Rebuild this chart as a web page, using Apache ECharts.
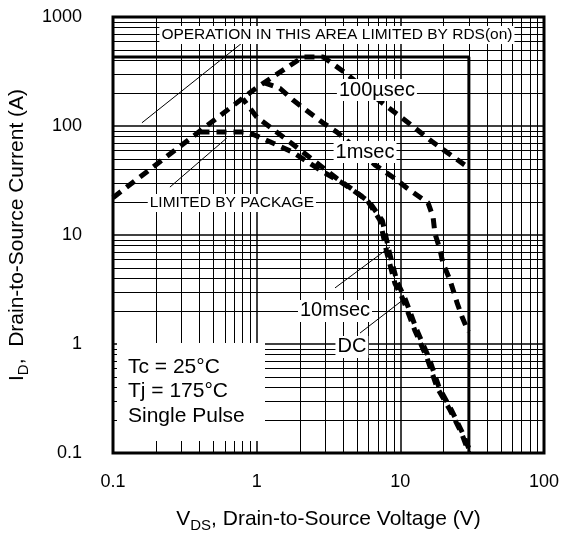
<!DOCTYPE html>
<html>
<head>
<meta charset="utf-8">
<script src="https://cdn.jsdelivr.net/npm/echarts@6/dist/echarts.min.js"></script>
<style>
html,body{margin:0;padding:0;background:#fff;}
#soa{width:564px;height:533px;}
</style>
</head>
<body>
<div id="soa"></div>
<script>
// safe operating area, log-log
const FONT='"Liberation Sans", Arial, Helvetica, sans-serif';

const decades=[0.1,1,10];
const steps=[2,3,4,5,6,7,8,9];
const yDecades=[0.1,1,10,100];

// [V, A]
const us100=[[0.1,22],[1,225],[2.1,430],[2.9,430],[4.1,310],[8,152],[11.7,104],[16.6,72],[28,44]];
const ms1=[[1.12,250],[1.45,222],[1.79,173],[2.89,107],[3.62,88],[6.65,44],[9.46,32],[11.1,27],[15.6,19.7],[16.9,14.6],[17.4,10.4],[18.9,7.3],[19.8,5.5],[22.1,3.9],[24.8,2.4],[26.8,1.8],[29,1.4],[30,1.3]];
const ms10=[[0.8,178],[1.0,121],[1.71,71],[3.62,33],[4.68,26],[6.1,20],[7.5,13.5],[8.4,6.9],[9.5,3.7],[10.8,2.6],[13,1.35],[15.8,0.75],[18.6,0.4],[22.6,0.25],[27.3,0.15],[30,0.11]];
const dc=[[0.4,88],[0.86,88],[1.05,79],[1.76,58],[2.89,38],[3.8,31],[5.86,21],[7.21,13.7],[8.07,6.8],[9.17,3.6],[10.4,2.6],[12.6,1.34],[15.3,0.75],[18,0.4],[22.1,0.25],[26.8,0.15],[30,0.1]];
const limitBox=[[0.1,430],[30,430],[30,0.1]];

const leaders=[
    [[0.159,107],[0.79,577]],
    [[0.249,27.5],[0.62,77.6]],
    [[3.51,3.27],[8.47,7.76]],
    [[5.24,1.26],[10.4,2.53]]
];

const tags=[
    {text:'OPERATION IN THIS AREA LIMITED BY RDS(on)',at:[3.62,684],size:15.5},
    {text:'LIMITED BY PACKAGE',at:[0.672,19.7],size:15.5},
    {text:'100µsec',at:[6.87,214],size:20},
    {text:'1msec',at:[5.68,57.7],size:20},
    {text:'10msec',at:[3.51,2.01],size:20},
    {text:'DC',at:[4.6,0.94],size:20}
];
const conditions=['Tc = 25°C','Tj = 175°C','Single Pulse'];

const xMinor=[];
decades.forEach(d=>steps.forEach(s=>xMinor.push(+(d*s).toPrecision(3))));
const yMinor=[];
yDecades.forEach(d=>steps.forEach(s=>yMinor.push(+(d*s).toPrecision(3))));

const chart=echarts.init(document.getElementById('soa'));

const curve=(name,data,offset)=>({
    name,
    type:'line',
    data,
    symbol:'none',
    z:3,
    lineStyle:{color:'#000',width:5,type:[10,7],dashOffset:offset||0,cap:'butt'}
});

const fmt=v=>String(Number(Number(v).toPrecision(2)));

chart.setOption({
    animation:false,
    backgroundColor:'#fff',
    grid:{
        left:113,right:20,top:17,bottom:80,
        containLabel:false,outerBoundsMode:'none',
        show:true,borderColor:'#000',borderWidth:3,backgroundColor:'transparent'
    },
    xAxis:{
        type:'log',logBase:10,min:0.1,max:100,
        axisLine:{show:false},axisTick:{show:false},
        splitLine:{show:true,lineStyle:{color:'#000',width:1.5}},
        axisLabel:{color:'#000',fontSize:18,fontFamily:FONT,margin:20,formatter:fmt},
        name:'{m|V}{s|DS}{m|, Drain-to-Source Voltage (V)}',
        nameLocation:'middle',nameGap:53,
        nameTextStyle:{color:'#000',fontSize:21,fontFamily:FONT,rich:{
            m:{fontSize:21,fontFamily:FONT,color:'#000'},
            s:{fontSize:15,fontFamily:FONT,color:'#000',padding:[12,0,0,0]}
        }}
    },
    yAxis:{
        type:'log',logBase:10,min:0.1,max:1000,
        axisLine:{show:false},axisTick:{show:false},
        splitLine:{show:true,lineStyle:{color:'#000',width:1.5}},
        axisLabel:{color:'#000',fontSize:18,fontFamily:FONT,margin:31,formatter:fmt},
        name:'{m|I}{s|D}{m|,  Drain-to-Source Current (A)}',
        nameLocation:'middle',nameGap:67,
        nameTextStyle:{color:'#000',fontSize:21,fontFamily:FONT,rich:{
            m:{fontSize:21,fontFamily:FONT,color:'#000'},
            s:{fontSize:15,fontFamily:FONT,color:'#000',padding:[12,0,0,0]}
        }}
    },
    series:[
        {
            name:'grid',
            type:'line',
            data:limitBox,
            symbol:'none',
            z:2,
            lineStyle:{color:'#000',width:3},
            markLine:{
                silent:true,
                symbol:['none','none'],
                label:{show:false},
                lineStyle:{color:'#000',width:1,type:'solid'},
                data:[
                    ...xMinor.map(v=>({xAxis:v})),
                    ...yMinor.map(v=>({yAxis:v}))
                ]
            }
        },
        curve('100µsec',us100),
        curve('1msec',ms1),
        curve('10msec',ms10,4),
        curve('DC',dc),
        ...leaders.map((pts,i)=>({
            name:'leader'+i,
            type:'line',
            data:pts,
            symbol:'none',
            z:4,
            lineStyle:{color:'#000',width:1}
        }))
    ]
});

const px=p=>chart.convertToPixel({gridIndex:0},p);

const graphics=tags.map(t=>{
    const [x,y]=px(t.at);
    return {
        type:'text',x,y,z:100,
        style:{
            text:t.text,fill:'#000',fontSize:t.size,fontFamily:FONT,
            align:'center',verticalAlign:'middle',
            backgroundColor:'#fff',padding:[1,2]
        }
    };
});

graphics.push({type:'rect',z:99,shape:{x:117,y:343,width:148,height:98},style:{fill:'#fff'}});
conditions.forEach((c,i)=>{
    graphics.push({
        type:'text',x:128,y:367+i*24.5,z:100,
        style:{text:c,fill:'#000',fontSize:21,fontFamily:FONT,align:'left',verticalAlign:'middle'}
    });
});

chart.setOption({graphic:graphics});

window.addEventListener('resize',()=>chart.resize());
</script>
</body>
</html>
